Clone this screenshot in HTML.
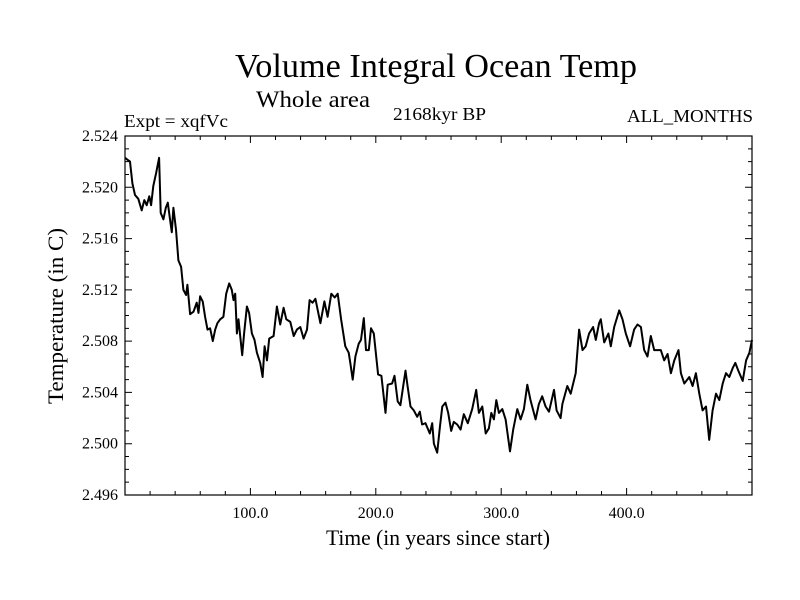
<!DOCTYPE html>
<html><head><meta charset="utf-8"><style>
html,body{margin:0;padding:0;background:#fff;}
svg{display:block;font-family:"Liberation Serif",serif;}
</style></head><body>
<svg id="chart" width="800" height="600" viewBox="0 0 800 600" xmlns="http://www.w3.org/2000/svg">
<rect x="0" y="0" width="800" height="600" fill="#fff"/>
<text x="436" y="77" font-size="34" text-anchor="middle" textLength="402" lengthAdjust="spacingAndGlyphs">Volume Integral Ocean Temp</text>
<text x="256" y="107" font-size="23" textLength="114" lengthAdjust="spacingAndGlyphs">Whole area</text>
<text x="124" y="127" font-size="18" textLength="104" lengthAdjust="spacingAndGlyphs">Expt = xqfVc</text>
<text x="393" y="120" font-size="18" textLength="93" lengthAdjust="spacingAndGlyphs">2168kyr BP</text>
<text x="753" y="122" font-size="18" text-anchor="end" textLength="126" lengthAdjust="spacingAndGlyphs">ALL_MONTHS</text>
<text x="438" y="545" font-size="22" text-anchor="middle" textLength="224" lengthAdjust="spacingAndGlyphs">Time (in years since start)</text>
<text x="0" y="0" font-size="22" text-anchor="middle" transform="translate(63,316) rotate(-90)" textLength="176" lengthAdjust="spacingAndGlyphs">Temperature (in C)</text>
<g id="axes"></g>
<g id="series"></g>
</svg>
<script>
const years = [0,2.7,4,5.9,8,10.6,13.3,15.4,17.3,19.4,20.8,22.6,24.8,27.2,28.5,30.6,32.5,34.1,35.9,37.3,38.6,40.7,42.6,44.7,46.6,48.7,49.8,51.9,54.6,57.2,58.6,59.9,62,63.9,65.8,67.9,70,71.9,73.7,75.9,78.5,80.7,83.1,85.2,86.5,87.9,89.2,90.5,91.9,93.5,95,97.2,99,101.2,103.3,105.2,107.8,109.7,111.3,113.2,115,118.5,121.1,123.8,126.5,128.6,131.8,134.5,137.1,139.8,142.4,145.1,147.2,149.6,151.8,155.8,159,161.6,164.5,167.2,169.6,172.3,175.7,178.4,179.7,181.6,183.7,186.4,188.2,190.4,192.2,194.4,196.2,198.4,201.8,204.5,207.7,209.5,213,214.9,217.5,219.6,223.7,225,227.7,230.3,233,235.1,236.9,239.6,243.1,245,246.3,249,251.1,253,255.6,257.7,260.1,262.2,264.9,267.6,270.2,273.4,276.9,280.1,282.2,284.9,287.6,290.2,292.1,294.2,296.1,298.2,300.9,303.5,307,309.6,312.8,315.5,318.1,320.8,323.4,327.4,330.1,332.7,335.4,338.1,342.1,344.2,347.4,348.8,352.7,355.4,359.4,362.1,364.8,367.4,370.1,373.3,375.4,378.1,379.4,382.1,385.5,387.4,390.1,394.1,396.7,399.4,402.8,406,408.7,411.4,414,416.7,419.3,422,424.7,427.3,430,432.7,435.3,438,441.4,443.3,446,450,452.6,455.3,458,460.6,463.3,465.9,468.6,471.3,473.9,476.6,479.3,481.9,484.6,486.7,489.1,492.6,495.3,497.9,500];
const temps = [2.5223,2.5221,2.5220,2.5203,2.5194,2.5191,2.5182,2.5190,2.5186,2.5193,2.5186,2.5201,2.5211,2.5223,2.5180,2.5175,2.5184,2.5188,2.5175,2.5165,2.5184,2.5167,2.5143,2.5138,2.5120,2.5116,2.5124,2.5101,2.5103,2.5110,2.5102,2.5115,2.5111,2.5099,2.5089,2.5090,2.5080,2.5089,2.5094,2.5097,2.5099,2.5117,2.5125,2.5120,2.5112,2.5117,2.5086,2.5097,2.5084,2.5069,2.5086,2.5107,2.5102,2.5086,2.5081,2.5071,2.5063,2.5052,2.5076,2.5065,2.5082,2.5084,2.5107,2.5093,2.5106,2.5097,2.5095,2.5084,2.5089,2.5091,2.5082,2.5089,2.5112,2.5110,2.5113,2.5094,2.5111,2.5099,2.5117,2.5114,2.5117,2.5097,2.5076,2.5071,2.5063,2.5050,2.5068,2.5078,2.5081,2.5098,2.5073,2.5073,2.5090,2.5086,2.5054,2.5053,2.5024,2.5046,2.5047,2.5053,2.5033,2.5030,2.5057,2.5047,2.5029,2.5026,2.5021,2.5025,2.5015,2.5016,2.5008,2.5016,2.5000,2.4993,2.5013,2.5029,2.5032,2.5024,2.5010,2.5017,2.5015,2.5011,2.5023,2.5016,2.5027,2.5042,2.5024,2.5029,2.5008,2.5012,2.5024,2.5019,2.5034,2.5024,2.5027,2.5019,2.4994,2.5011,2.5027,2.5019,2.5027,2.5046,2.5034,2.5019,2.5031,2.5037,2.5029,2.5025,2.5042,2.5026,2.5020,2.5031,2.5045,2.5039,2.5055,2.5089,2.5073,2.5076,2.5086,2.5091,2.5081,2.5094,2.5097,2.5079,2.5086,2.5076,2.5091,2.5104,2.5097,2.5086,2.5076,2.5089,2.5093,2.5091,2.5073,2.5068,2.5084,2.5073,2.5073,2.5073,2.5065,2.5070,2.5055,2.5065,2.5073,2.5055,2.5047,2.5052,2.5045,2.5055,2.5039,2.5026,2.5029,2.5003,2.5026,2.5039,2.5034,2.5047,2.5055,2.5052,2.5059,2.5063,2.5057,2.5049,2.5065,2.5071,2.5081];
const xTickValues = [100,200,300,400];
const xTickLabels = ["100.0","200.0","300.0","400.0"];
const yTickValues = [2.496,2.500,2.504,2.508,2.512,2.516,2.520,2.524];
const yTickLabels = ["2.496","2.500","2.504","2.508","2.512","2.516","2.520","2.524"];

const L=125,R=752,T=136,B=495, X0=0,X1=500,Y0=2.496,Y1=2.524;
const xs=v=>L+(v-X0)/(X1-X0)*(R-L);
const ys=v=>B-(v-Y0)/(Y1-Y0)*(B-T);
const NS="http://www.w3.org/2000/svg";
const axes=document.getElementById('axes');
function mk(tag,attrs,parent){const e=document.createElementNS(NS,tag);for(const k in attrs)e.setAttribute(k,attrs[k]);parent.appendChild(e);return e;}

const frame=mk('rect',{x:L,y:T,width:R-L,height:B-T,fill:'none',stroke:'#000','stroke-width':1.2},axes);



let d='';
for(let v=20;v<X1;v+=20){const x=xs(v);const len=(v%100===0)?7:4;d+=`M${x},${B}v${-len}M${x},${T}v${len}`;}
for(let i=0;i<=28;i++){const v=Y0+i*0.001;const y=ys(v);const len=(i%4===0)?7:4;d+=`M${L},${y}h${len}M${R},${y}h${-len}`;}
const ticks=mk('path',{d:d,stroke:'#000','stroke-width':1,fill:'none'},axes);



xTickValues.forEach((v,i)=>{const t=mk('text',{x:xs(v),y:518,'font-size':16,'text-anchor':'middle'},axes);t.textContent=xTickLabels[i];

});
yTickValues.forEach((v,i)=>{const t=mk('text',{x:118,y:ys(v)+5,'font-size':16,'text-anchor':'end'},axes);t.textContent=yTickLabels[i];

});

const pts=years.map((v,i)=>xs(v).toFixed(1)+','+ys(temps[i]).toFixed(1)).join(' ');
const line=mk('polyline',{points:pts,fill:'none',stroke:'#000','stroke-width':2,'stroke-linejoin':'round'},document.getElementById('series'));


</script>
</body></html>
